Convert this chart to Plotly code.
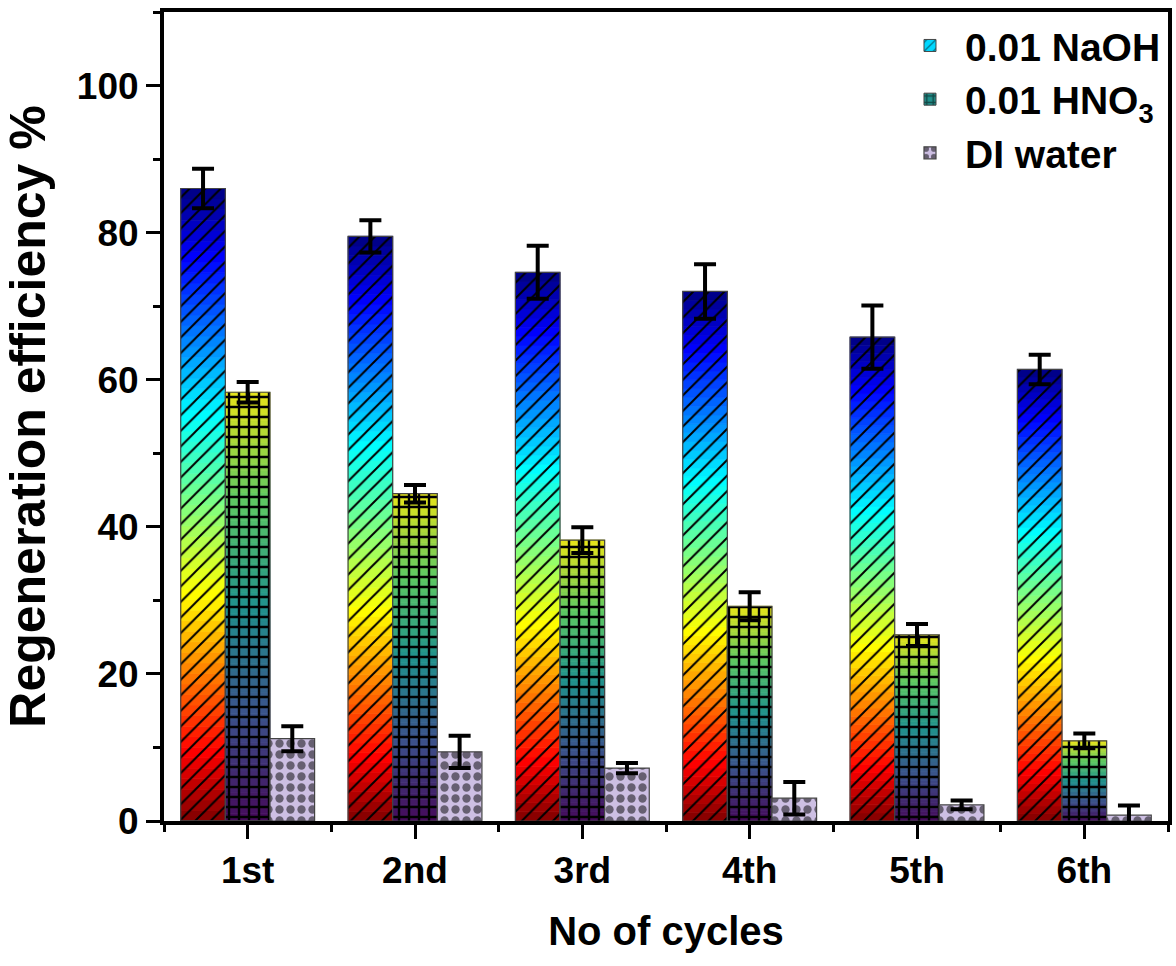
import plotly.graph_objects as go
from plotly.colors import sample_colorscale

# ---------------- data ----------------
cycles = ["1st", "2nd", "3rd", "4th", "5th", "6th"]
naoh = [86.0, 79.5, 74.6, 72.0, 65.8, 61.4]
naoh_err = [2.7, 2.2, 3.6, 3.7, 4.3, 2.0]
hno3 = [58.3, 44.5, 38.2, 29.2, 25.3, 10.9]
hno3_err = [1.4, 1.2, 1.75, 1.9, 1.5, 1.0]
di = [11.2, 9.4, 7.2, 3.1, 2.2, 0.8]
di_err = [1.7, 2.2, 0.7, 2.2, 0.6, 1.3]

# ---------------- styles ----------------
FONT = "Arial, Liberation Sans, sans-serif"
JET_UP = [[0.0, "#800000"], [0.11, "#ff0000"], [0.36, "#ffff00"],
          [0.64, "#00ffff"], [0.89, "#0000ff"], [1.0, "#000080"]]
VIR_UP = [[0.0, "#45095a"], [0.25, "#3b528b"], [0.5, "#21918c"],
          [0.75, "#5ec962"], [1.0, "#e8e419"]]
NSEG = 60
x = list(range(len(cycles)))

fig = go.Figure()


def gradient_series(vals, errs, scale, group, name, legend_color, pshape, psize, psol):
    # gradient body: stacked thin segments, colour by fraction of each bar's height
    for k in range(NSEG):
        frac = (k + 0.5) / NSEG
        col = sample_colorscale(scale, [frac])[0]
        fig.add_trace(go.Bar(
            x=x, y=[v / NSEG for v in vals], base=[v * k / NSEG for v in vals],
            offsetgroup=group, marker=dict(color=col, line=dict(color=col, width=0.8)),
            showlegend=False, hoverinfo="skip"))
    # pattern + outline + error bars on top
    fig.add_trace(go.Bar(
        x=x, y=vals, base=[0] * len(vals), offsetgroup=group, showlegend=False,
        marker=dict(color="rgba(0,0,0,0)", line=dict(color="#444444", width=1.2),
                    pattern=dict(shape=pshape, size=psize, solidity=psol,
                                 fgcolor="black", bgcolor="rgba(0,0,0,0)", fillmode="replace")),
        error_y=dict(type="data", array=errs, color="black", thickness=4, width=11)))
    # legend swatch
    fig.add_trace(go.Bar(
        x=[x[0]], y=[0], offsetgroup=group, name=name,
        marker=dict(color=legend_color, line=dict(color="#444444", width=1),
                    pattern=dict(shape=pshape, size=8, solidity=psol, fgcolor="black",
                                 fillmode="overlay"))))


gradient_series(naoh, naoh_err, JET_UP, "naoh", "0.01 NaOH", "#00d8ff", "/", 11, 0.18)
gradient_series(hno3, hno3_err, VIR_UP, "hno3", "0.01 HNO<sub>3</sub>", "#21918c", "+", 10, 0.42)

# DI water (single colour)
fig.add_trace(go.Bar(
    x=x, y=di, offsetgroup="di", name="DI water",
    marker=dict(color="#cdbfe3", line=dict(color="#444444", width=1.2),
                pattern=dict(shape=".", size=11, solidity=0.45, fgcolor="black",
                             fillmode="overlay")),
    error_y=dict(type="data", array=di_err, color="black", thickness=4, width=11)))

tickfont = dict(family=FONT, size=37, color="black", weight="bold")

fig.update_layout(
    width=1176, height=966,
    margin=dict(l=164, r=8, t=12, b=145, autoexpand=False),
    paper_bgcolor="white", plot_bgcolor="white",
    barmode="group", bargap=0.2, bargroupgap=0.0,
    font=dict(family=FONT, color="black"),
    legend=dict(x=0.998, xanchor="right", y=0.998, yanchor="top",
                bgcolor="rgba(255,255,255,0)", borderwidth=0,
                font=dict(family=FONT, size=39, color="black", weight="bold"),
                itemwidth=60),
    xaxis=dict(range=[-0.5, 5.5], tickmode="array", tickvals=x, ticktext=cycles,
               showgrid=False, zeroline=False,
               showline=True, linecolor="black", linewidth=4, mirror=True,
               ticks="outside", ticklen=14, tickwidth=3, tickcolor="black",
               tickfont=tickfont,
               minor=dict(tickmode="array", tickvals=[i - 0.5 for i in range(len(cycles) + 1)],
                          ticks="outside", ticklen=7, tickwidth=3, tickcolor="black"),
               title=dict(text="No of cycles", standoff=28,
                          font=dict(family=FONT, size=40, color="black", weight="bold")),
               automargin=False),
    yaxis=dict(range=[0, 110], tick0=0, dtick=20,
               showgrid=False, zeroline=False,
               showline=True, linecolor="black", linewidth=4, mirror=True,
               ticks="outside", ticklen=14, tickwidth=3, tickcolor="black",
               tickfont=tickfont,
               minor=dict(dtick=10, ticks="outside", ticklen=7, tickwidth=3, tickcolor="black"),
               title=dict(text="Regeneration efficiency %", standoff=22,
                          font=dict(family=FONT, size=50, color="black", weight="bold")),
               automargin=False),
)

fig.write_html("out.html")
